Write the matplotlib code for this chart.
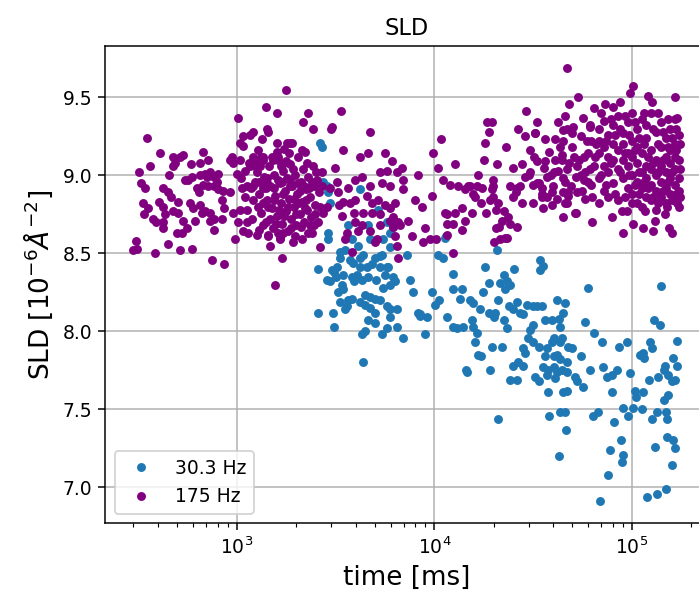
import matplotlib.pyplot as plt
import numpy as np

# (time in ms, SLD), 175 Hz run
sld_175_left = [
    (350, 9.24), (409, 9.14), (319, 9.02), (364, 9.06), (327, 8.95), (343, 8.92),
    (335, 8.82), (357, 8.79), (339, 8.75), (378, 8.72), (391, 8.70), (310, 8.58),
    (300, 8.52), (312, 8.53), (386, 8.50), (425, 8.92), (451, 8.89), (464, 8.86),
    (405, 8.83), (425, 8.80), (434, 8.75), (425, 8.70), (425, 8.66), (451, 8.56),
    (478, 9.12), (487, 9.08), (516, 9.12), (536, 9.13), (456, 9.00), (474, 9.06),
    (506, 8.83), (478, 8.77), (506, 8.76), (532, 8.71), (526, 8.63), (500, 8.63),
    (516, 8.52), (547, 8.97), (568, 8.97), (590, 8.99), (585, 9.07), (652, 9.08),
    (677, 9.15), (717, 9.10), (627, 8.92), (647, 8.89), (580, 8.82), (602, 8.79),
    (652, 8.81), (665, 8.76), (615, 8.71), (562, 8.66), (590, 8.53), (746, 8.46),
    (863, 8.43), (732, 8.71), (768, 8.72), (838, 8.72), (764, 8.65), (691, 9.01),
    (704, 8.99), (732, 9.02), (764, 8.99), (805, 9.01), (790, 8.96), (652, 9.00),
    (677, 8.94), (717, 8.93), (764, 8.93), (805, 8.91), (855, 8.90), (838, 8.84),
    (925, 8.89), (691, 8.77), (732, 8.76), (863, 8.79), (980, 8.59), (961, 8.76),
    (925, 9.10), (961, 9.08), (1039, 9.10), (1019, 9.37), (1039, 9.21), (1080, 9.25),
    (1168, 9.26), (1214, 9.28), (1338, 9.23), (1418, 9.30), (1407, 9.44), (1594, 9.40),
    (1777, 9.55), (1000, 9.01), (1102, 9.03), (1168, 9.06), (1262, 9.10), (1312, 9.06),
    (1214, 9.12), (1362, 9.12), (1060, 8.92), (1124, 8.93), (1039, 8.78), (1124, 8.78),
    (1019, 8.70), (1080, 8.64), (1145, 8.63), (1262, 8.62), (1290, 8.65), (1446, 8.61),
    (1475, 8.55), (1623, 8.63), (1657, 8.59), (1690, 8.47), (1563, 8.30), (1933, 8.57),
    (1214, 8.93), (1290, 8.96), (1362, 8.92), (1418, 8.95), (1214, 8.84), (1362, 8.82),
    (1446, 8.80), (1532, 9.10), (1623, 9.12), (1724, 9.08), (1594, 9.21), (1724, 9.17),
    (1862, 9.21), (2166, 9.34), (2434, 9.30), (3040, 9.31), (1440, 9.28), (1800, 9.21),
    (1910, 9.21), (1080, 9.19), (1280, 9.16), (2218, 9.15), (3147, 9.05), (2700, 9.02),
    (944, 9.12),
]

sld_175_left_core = [
    (1260, 9.02), (1300, 8.88), (1330, 8.76), (1380, 8.99), (1400, 8.70), (1420, 8.84),
    (1460, 9.06), (1480, 8.93), (1500, 8.79), (1530, 8.66), (1550, 9.00), (1570, 8.87),
    (1600, 8.74), (1620, 9.10), (1650, 8.95), (1680, 8.82), (1700, 8.69), (1720, 9.03),
    (1750, 8.90), (1770, 8.77), (1800, 8.98), (1820, 8.64), (1840, 8.85), (1870, 9.07),
    (1890, 8.72), (1910, 8.93), (1940, 8.80), (1970, 9.00), (2000, 8.68), (2020, 8.88),
    (2050, 9.12), (2080, 8.75), (2110, 8.96), (2140, 8.83), (2170, 9.04), (2200, 8.70),
    (2230, 8.91), (2260, 8.78), (2300, 8.99), (2340, 8.86), (2380, 8.73), (2420, 9.06),
    (2460, 8.93), (2500, 8.81), (2560, 8.97), (2600, 8.89), (1360, 9.10), (1440, 8.62),
    (1590, 9.15), (1660, 8.60), (1830, 9.14), (1960, 8.61), (2150, 9.16), (2280, 8.63),
    (2450, 8.68), (1700, 8.96), (1950, 8.85), (2100, 8.90), (1550, 8.92), (1850, 8.93),
    (2250, 8.84), (1400, 8.92), (2650, 8.80), (2700, 8.93),
    (1050, 8.98), (1100, 8.86), (1150, 9.08), (1200, 8.72), (1230, 8.96), (1280, 8.80),
    (1320, 9.12), (1350, 8.68), (1390, 8.83), (1430, 8.98), (1470, 8.72), (1510, 9.12),
    (1540, 8.84), (1580, 8.69), (1610, 8.97), (1640, 8.78), (1670, 9.06), (1710, 8.88),
    (1740, 8.74), (1780, 9.09), (1810, 8.80), (1860, 8.97), (1880, 8.66), (1920, 9.04),
    (1990, 8.75), (2030, 8.95), (2060, 8.82), (2120, 8.67), (2180, 8.93), (2210, 8.79),
    (2270, 9.08), (2320, 8.92), (2360, 8.68), (2400, 8.96), (2480, 8.75), (2530, 9.02),
    (2580, 8.70), (1120, 8.70), (1180, 8.92), (1240, 9.06),
]

sld_175_mid = [
    (2300, 9.40), (3370, 9.41), (3000, 9.30), (4730, 9.28), (10800, 9.23), (3450, 9.16),
    (4210, 9.12), (4620, 9.14), (5640, 9.14), (6120, 9.09), (9840, 9.14), (10450, 9.05),
    (12740, 9.07), (3210, 8.96), (2970, 8.92), (3260, 8.89), (3660, 8.92), (3970, 8.97),
    (4300, 8.99), (4730, 8.93), (5320, 9.02), (5760, 9.03), (5440, 8.95), (6440, 9.02),
    (6850, 9.05), (6920, 8.97), (8220, 9.00), (5970, 8.93), (6920, 8.91), (9730, 8.87),
    (11080, 8.97), (12020, 8.94), (13190, 8.93), (14320, 8.91), (14850, 8.93), (15760, 8.88),
    (16500, 8.93), (16700, 9.00), (3450, 8.83), (3750, 8.82), (3970, 8.84), (4570, 8.87),
    (4840, 8.82), (5190, 8.84), (5640, 8.81), (6330, 8.82), (7990, 8.84), (8680, 8.80),
    (2860, 8.80), (2730, 8.76), (3390, 8.74), (3930, 8.76), (3970, 8.70), (4370, 8.76),
    (4840, 8.76), (5320, 8.75), (5970, 8.71), (6190, 8.67), (6560, 8.70), (7380, 8.71),
    (11340, 8.76), (12740, 8.76), (12370, 8.69), (14320, 8.71), (15570, 8.76), (4090, 8.64),
    (3620, 8.63), (4730, 8.64), (5320, 8.68), (6330, 8.61), (6500, 8.55), (7700, 8.61),
    (8980, 8.66), (8800, 8.57), (9520, 8.59), (10200, 8.59), (11600, 8.69), (13840, 8.65),
    (5020, 8.57), (3530, 8.59), (3850, 8.51), (2640, 8.54), (2150, 8.59), (6560, 8.47),
    (12370, 8.50), (1720, 8.63), (2410, 8.63), (3280, 8.81), (4300, 8.68), (5970, 8.79),
    (6190, 8.73), (6710, 8.68), (5120, 8.59), (11600, 8.75), (13840, 8.79), (11600, 8.62),
]

sld_175_right = [
    (46990, 9.69), (101000, 9.57), (98000, 9.53), (53500, 9.50), (47800, 9.46), (120000, 9.51),
    (126000, 9.47), (166000, 9.50), (73200, 9.46), (64300, 9.43), (29100, 9.41), (45900, 9.38),
    (56500, 9.37), (18500, 9.34), (18900, 9.28), (26500, 9.30), (33100, 9.34), (42100, 9.34),
    (46900, 9.30), (50500, 9.31), (61500, 9.31), (18080, 9.21), (23150, 9.18), (28830, 9.25),
    (32390, 9.27), (169000, 9.37), (17900, 9.10), (20800, 9.07), (25100, 9.05), (15180, 8.93),
    (17470, 8.92), (16090, 8.86), (19800, 8.97), (19800, 8.93), (19800, 8.86), (17270, 8.82),
    (18300, 8.76), (21100, 8.82), (22400, 8.77), (23700, 8.73), (22000, 8.71), (24200, 8.69),
    (26200, 8.67), (20600, 8.66), (23400, 8.60), (21500, 8.59), (20100, 8.57), (24200, 8.93),
    (26000, 8.89), (27200, 8.93), (25100, 8.86), (27800, 8.82), (31700, 8.82), (33200, 8.95),
    (35200, 8.86), (35600, 8.79), (39500, 8.81), (41800, 8.85), (37200, 8.99), (40400, 9.02),
    (45900, 8.82), (47600, 8.89), (52700, 8.89), (52000, 8.76), (44700, 8.73), (58000, 8.85),
    (68200, 8.82), (62800, 8.70), (79300, 8.73), (89500, 8.77), (94500, 8.77), (90500, 8.63),
    (101000, 8.69), (99800, 8.82), (114000, 8.66), (117000, 8.77), (128000, 8.64), (131000, 8.71),
    (147000, 8.75), (151000, 8.80), (154000, 8.66), (160000, 8.63), (169000, 8.82), (32400, 9.27),
    (27800, 9.07), (30600, 9.16), (36400, 9.23), (40900, 9.23), (44700, 9.29), (49700, 9.27),
    (61500, 9.32), (26200, 8.92), (31700, 8.94), (35000, 8.92), (28800, 8.99), (30600, 9.02),
    (33200, 9.09), (36400, 9.09), (37200, 8.86), (39500, 8.89), (47600, 8.87), (51600, 8.76),
    (20600, 8.78), (22800, 8.60), (21300, 8.67), (19200, 8.84), (19600, 8.91), (19600, 9.34),
    (80500, 9.44), (87300, 9.47), (44700, 8.89), (47000, 8.82), (44700, 8.98), (44200, 9.10),
]

sld_175_right_core = [
    (30000, 9.00), (32000, 9.12), (34000, 8.95), (36000, 9.05), (38000, 9.15), (40000, 8.93),
    (42000, 9.03), (44000, 9.13), (46000, 8.96), (48000, 9.08), (50000, 9.18), (52000, 8.99),
    (54000, 9.10), (56000, 8.90), (58000, 9.02), (60000, 9.14), (62000, 8.94), (64000, 9.06),
    (66000, 9.20), (35000, 8.88), (45000, 9.22), (55000, 9.25), (63000, 8.86), (41000, 9.10),
    (57000, 8.97), (47000, 9.04), (53000, 9.06), (59000, 9.22), (39000, 9.00), (61000, 9.04),
    (43000, 9.18), (49000, 8.93), (51000, 9.12), (57000, 9.12), (60000, 8.96), (65000, 9.12),
    (62000, 9.22), (55000, 9.00),
    (68000, 9.30), (68000, 9.14), (68000, 8.98), (68000, 9.22),
    (70000, 9.40), (70000, 9.00),
    (72000, 9.06), (72000, 9.35), (72000, 8.90), (72000, 9.18),
    (74000, 9.22), (74000, 8.94),
    (76000, 9.26), (76000, 9.02), (76000, 9.12), (76000, 8.86),
    (78000, 9.36), (78000, 9.08),
    (80000, 9.32), (80000, 9.10), (80000, 8.95), (80000, 9.20),
    (82000, 9.26), (82000, 8.88),
    (85000, 9.04), (85000, 9.38), (85000, 9.16), (85000, 8.84),
    (87000, 9.30), (87000, 9.02),
    (90000, 9.27), (90000, 8.98), (90000, 9.10), (90000, 9.20),
    (92000, 9.38), (92000, 9.14), (92000, 8.86),
    (95000, 9.34), (95000, 9.06), (95000, 8.92), (95000, 9.14),
    (97000, 9.26), (97000, 9.00),
    (100000, 9.22), (100000, 9.00), (100000, 9.40), (100000, 8.88), (100000, 9.12),
    (103000, 9.34), (103000, 9.16), (103000, 8.94),
    (106000, 9.30), (106000, 9.08), (106000, 8.82), (106000, 9.18), (106000, 8.96),
    (109000, 9.24), (109000, 9.02), (109000, 8.88),
    (112000, 9.36), (112000, 9.14), (112000, 8.92), (112000, 9.02), (112000, 8.80),
    (115000, 9.40), (115000, 9.20), (115000, 8.96),
    (118000, 9.24), (118000, 9.06), (118000, 8.86), (118000, 9.32), (118000, 8.98),
    (121000, 9.12), (121000, 8.92),
    (125000, 9.16), (125000, 8.94), (125000, 9.40), (125000, 9.04), (125000, 8.84),
    (128000, 9.30), (128000, 9.08), (128000, 8.86),
    (132000, 9.28), (132000, 9.10), (132000, 8.90), (132000, 9.00), (132000, 8.78),
    (136000, 9.40), (136000, 9.20), (136000, 9.02), (136000, 8.82),
    (140000, 9.34), (140000, 9.18), (140000, 8.96), (140000, 9.06), (140000, 8.86),
    (144000, 9.28), (144000, 9.10), (144000, 8.90),
    (148000, 9.24), (148000, 9.12), (148000, 8.92), (148000, 9.02), (148000, 8.82),
    (152000, 9.36), (152000, 9.18), (152000, 8.96),
    (156000, 9.30), (156000, 9.08), (156000, 8.98), (156000, 8.88), (156000, 9.16),
    (160000, 9.24), (160000, 9.02), (160000, 8.84),
    (165000, 9.20), (165000, 9.04), (165000, 8.94), (165000, 8.84), (165000, 9.12), (165000, 9.36),
    (168000, 9.30), (168000, 9.16), (168000, 8.88),
    (172000, 9.26), (172000, 9.10), (172000, 8.98), (172000, 8.90), (172000, 8.80),
    (176000, 9.20), (176000, 9.04), (176000, 8.86),
]

# (time in ms, SLD), 30.3 Hz run
sld_30_mid = [
    (2640, 9.21), (2700, 9.18), (2730, 8.96), (2860, 8.93), (2970, 8.82), (2900, 8.89),
    (4210, 8.91), (5190, 8.78), (3660, 8.68), (4620, 8.68), (2900, 8.63), (2900, 8.59),
    (5760, 8.70), (6190, 8.67), (11340, 8.60), (3850, 8.59), (4090, 8.55), (3530, 8.52),
    (4730, 8.59), (5510, 8.59), (5970, 8.54), (3330, 8.51), (3330, 8.47), (10450, 8.49),
    (11080, 8.47), (12370, 8.37), (2580, 8.40), (3040, 8.39), (3210, 8.41), (3750, 8.46),
    (4210, 8.47), (4570, 8.41), (5320, 8.48), (5760, 8.41), (3100, 8.38), (2860, 8.33),
    (2970, 8.32), (3180, 8.35), (3450, 8.36), (3890, 8.44), (4370, 8.49), (4210, 8.41),
    (4840, 8.43), (5020, 8.47), (5440, 8.49), (5970, 8.63), (5320, 8.41), (5840, 8.41),
    (5640, 8.36), (6190, 8.35), (6330, 8.32), (5970, 8.30), (5510, 8.28), (5080, 8.33),
    (4620, 8.35), (4300, 8.33), (4050, 8.36), (3810, 8.35), (3930, 8.32), (3390, 8.30),
    (3450, 8.27), (3240, 8.25), (3660, 8.20), (3850, 8.21), (3330, 8.19), (3620, 8.16),
    (3530, 8.14), (3070, 8.12), (2580, 8.12), (3110, 8.03), (4460, 8.23), (4730, 8.22),
    (5020, 8.21), (5320, 8.20), (4210, 8.19), (4460, 8.17), (4730, 8.15), (5020, 8.12),
    (4620, 8.07), (5020, 8.05), (5760, 8.16), (5970, 8.14), (6440, 8.14), (5970, 8.09),
    (4300, 7.98), (4460, 8.00), (5440, 7.98), (5760, 8.02), (6440, 8.03), (6920, 7.96),
    (4370, 7.80), (7540, 8.33), (7790, 8.25), (7270, 8.49), (8220, 8.12), (8470, 8.11),
    (9210, 8.09), (8980, 7.98), (9730, 8.25), (10570, 8.20), (10090, 8.17), (12370, 8.27),
    (13840, 8.27), (13510, 8.21), (11600, 8.09), (12370, 8.03), (13990, 8.03), (15180, 8.20),
    (15760, 8.18), (14650, 7.74), (16700, 7.85), (16500, 7.99),
]

sld_30_right = [
    (34300, 8.46), (35400, 8.42), (34300, 8.39), (20800, 8.52), (11500, 8.61), (18080, 8.41),
    (25300, 8.40), (22400, 8.36), (23400, 8.32), (21500, 8.31), (24200, 8.30), (22800, 8.27),
    (18900, 8.31), (60100, 8.28), (140500, 8.29), (17060, 8.14), (17680, 8.25), (21100, 8.20),
    (8470, 8.10), (13040, 8.02), (15570, 8.07), (15760, 8.03), (18900, 8.12), (20300, 8.12),
    (20100, 8.09), (22400, 8.07), (23400, 8.02), (23900, 8.16), (25100, 8.14), (26200, 8.19),
    (27200, 8.12), (28200, 8.11), (29500, 8.17), (31400, 8.16), (33100, 8.16), (35200, 8.16),
    (41800, 8.20), (46000, 8.18), (44700, 8.12), (31700, 8.04), (30600, 8.01), (29700, 7.96),
    (36400, 8.07), (39500, 8.07), (42500, 8.08), (43350, 8.03), (44200, 7.96), (43350, 7.93),
    (40100, 7.96), (39500, 7.93), (31700, 7.93), (33700, 7.90), (37200, 7.89), (36400, 7.84),
    (40100, 7.84), (41800, 7.85), (43350, 7.82), (47000, 7.80), (47600, 7.90), (49700, 7.89),
    (28200, 7.89), (28800, 7.86), (25100, 7.78), (26600, 7.80), (28200, 7.78), (35600, 7.77),
    (37800, 7.75), (37200, 7.72), (40100, 7.77), (41800, 7.74), (44200, 7.75), (47000, 7.74),
    (32400, 7.71), (33700, 7.68), (40900, 7.70), (51600, 7.71), (52700, 7.68), (56500, 7.64),
    (44700, 7.61), (47000, 7.62), (37800, 7.61), (24200, 7.69), (26200, 7.69), (55400, 7.84),
    (58000, 8.06), (64300, 7.99), (70800, 7.93), (61500, 7.75), (71500, 7.77), (74700, 7.71),
    (79300, 7.72), (84000, 7.75), (79300, 7.61), (86000, 7.90), (94500, 7.93), (98000, 7.73),
    (110200, 7.85), (114000, 7.86), (115000, 7.83), (123800, 7.93), (126300, 7.89), (129700, 8.07),
    (139100, 8.04), (122000, 7.69), (136000, 7.71), (145000, 7.75), (147500, 7.78), (161000, 7.83),
    (169000, 7.78), (165700, 7.69), (159000, 7.68), (152000, 7.72), (169000, 7.94), (103000, 7.62),
    (114000, 7.61), (104500, 7.58), (152000, 7.59), (14500, 7.75), (19160, 7.75), (17270, 7.84),
    (16090, 7.93), (19600, 7.90), (21970, 7.90), (21100, 7.44), (38100, 7.46), (43350, 7.48),
    (46000, 7.48), (46500, 7.37), (42500, 7.20), (63600, 7.46), (67200, 7.48), (81300, 7.42),
    (90500, 7.51), (95600, 7.46), (101000, 7.51), (112000, 7.50), (126300, 7.44), (134500, 7.48),
    (148500, 7.48), (150000, 7.44), (88200, 7.30), (90500, 7.21), (89000, 7.16), (77600, 7.24),
    (75900, 7.08), (69100, 6.91), (131000, 7.26), (151000, 7.32), (161000, 7.30), (165700, 7.25),
    (160000, 7.14), (118900, 6.94), (134500, 6.96), (149500, 6.99), (145000, 7.56),
]

p30 = np.array(sld_30_mid + sld_30_right)
p175 = np.array(sld_175_left + sld_175_left_core + sld_175_mid
                + sld_175_right + sld_175_right_core)

fig = plt.figure(figsize=(699 / 135, 596 / 135), dpi=135)
ax = fig.add_axes([0.1506, 0.1225, 0.861, 0.8003])

ax.plot(p30[:, 0], p30[:, 1], '.', ms=7.5, color='#1f77b4', label='30.3 Hz')
ax.plot(p175[:, 0], p175[:, 1], '.', ms=7.5, color='purple', label='175 Hz')

ax.set_xscale('log')
ax.set_xlim(216, 2.4e5)
ax.set_ylim(6.771, 9.829)
ax.grid()
ax.set_title('SLD')
ax.set_xlabel('time [ms]', fontsize=14)
ax.set_ylabel(r'SLD [$10^{-6} \AA^{-2}$]', fontsize=14)
ax.legend(loc='lower left')

fig.savefig('out.png', dpi=135)
